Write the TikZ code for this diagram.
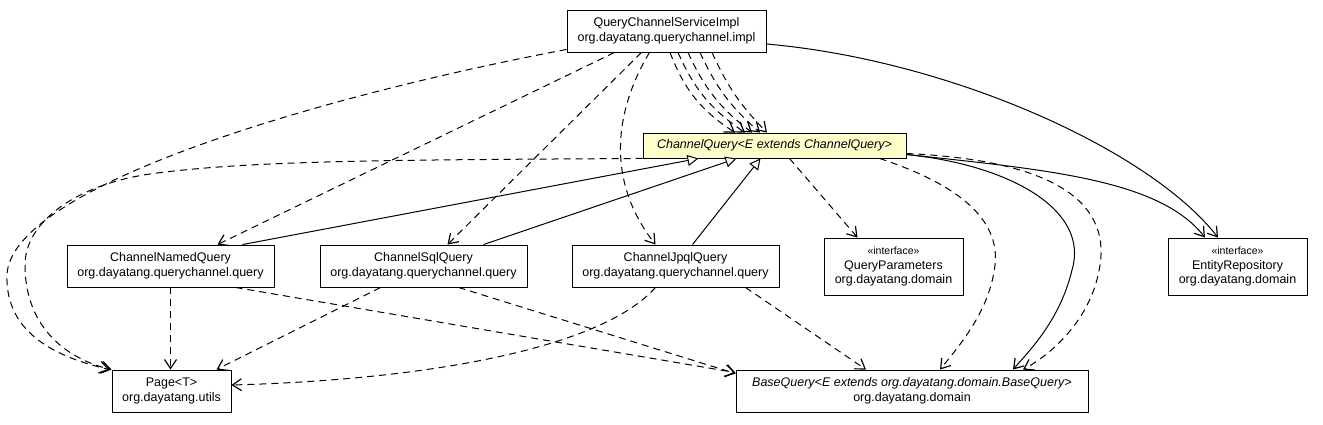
\documentclass[tikz,border=0pt]{standalone}
\usepackage{fontspec}
\setmainfont{Liberation Sans}
\usetikzlibrary{arrows.meta}
\definecolor{noteyellow}{HTML}{FFFFCC}
\begin{document}
\begin{tikzpicture}[x=1pt,y=-1pt,
  cls/.style={draw, line width=0.9pt, fill=white, inner sep=0pt, align=center, font=\fontsize{12.5}{14.5}\selectfont},
  dep/.style={line width=1pt, dash pattern=on 7pt off 5pt, -{Straight Barb[length=9pt,width=12pt,line width=1.2pt]}},
  assoc/.style={line width=1pt, -{Straight Barb[length=9pt,width=12pt,line width=1.2pt]}},
  gen/.style={line width=1pt, -{Triangle[open,length=11pt,width=11pt,fill=white]}}
]
\path[use as bounding box] (0,0) rectangle (1323,424);

% nodes
\node[cls, minimum width=199pt, minimum height=42pt] (qcs) at (666.5,31) {QueryChannelServiceImpl\\org.dayatang.querychannel.impl};
\node[cls, fill=noteyellow, minimum width=263pt, minimum height=25pt] (cq) at (774.5,145.5) {\itshape ChannelQuery<E extends ChannelQuery>};
\node[cls, minimum width=207pt, minimum height=42pt] (cnq) at (170.5,266) {ChannelNamedQuery\\org.dayatang.querychannel.query};
\node[cls, minimum width=207pt, minimum height=42pt] (csq) at (423.5,266) {ChannelSqlQuery\\org.dayatang.querychannel.query};
\node[cls, minimum width=207pt, minimum height=42pt] (cjq) at (675.5,266) {ChannelJpqlQuery\\org.dayatang.querychannel.query};
\node[cls, minimum width=139pt, minimum height=57pt] (qp) at (893.5,266.5) {{\fontsize{10.5}{12.5}\selectfont «interface»}\\QueryParameters\\org.dayatang.domain};
\node[cls, minimum width=139pt, minimum height=57pt] (er) at (1237.5,266.5) {{\fontsize{10.5}{12.5}\selectfont «interface»}\\EntityRepository\\org.dayatang.domain};
\node[cls, minimum width=119pt, minimum height=42pt] (page) at (171.5,391) {Page<T>\\org.dayatang.utils};
\node[cls, minimum width=352pt, minimum height=42pt] (bq) at (912,391) {\itshape BaseQuery<E extends org.dayatang.domain.BaseQuery>\\org.dayatang.domain};

% QueryChannelServiceImpl dependencies
\draw[dep] ([yshift=3pt]qcs.south west) .. controls (300,100) and (10,190) .. (7,275) .. controls (5,335) and (60,358) .. ([xshift=-2pt]page.north west);
\draw[dep] ([xshift=-52pt]qcs.south) -- ([xshift=47pt]cnq.north);
\draw[dep] ([xshift=-25pt]qcs.south) -- ([xshift=24pt]csq.north);
\draw[dep] ([xshift=-17pt]qcs.south) .. controls (615,110) and (605,180) .. ([xshift=-20pt]cjq.north);
\draw[dep] ([xshift=3.5pt]qcs.south) to[bend right=18] ([xshift=-39.5pt]cq.north);
\draw[dep] ([xshift=11.5pt]qcs.south) to[bend right=16] ([xshift=-29.5pt]cq.north);
\draw[dep] ([xshift=21.5pt]qcs.south) to[bend right=14] ([xshift=-22.5pt]cq.north);
\draw[dep] ([xshift=33.5pt]qcs.south) to[bend right=12] ([xshift=-14.5pt]cq.north);
\draw[dep] ([xshift=45.5pt]qcs.south) to[bend right=10] ([xshift=-7.5pt]cq.north);
\draw[assoc] ([yshift=-13pt]qcs.east) .. controls (950,60) and (1150,150) .. ([xshift=-19.5pt]er.north);

% ChannelQuery dependencies
\draw[dep] (cq.south west) .. controls (400,160) and (250,160) .. (150,174) .. controls (80,184) and (25,220) .. (25,265) .. controls (25,330) and (70,360) .. (page.north west);
\draw[dep] ([xshift=15pt]cq.south) -- ([xshift=-36pt]qp.north);
\draw[dep] ([xshift=105pt]cq.south) .. controls (960,185) and (1000,220) .. (995,265) .. controls (990,310) and (960,345) .. ([xshift=28pt]bq.north);
\draw[assoc] ([yshift=-9pt]cq.east) .. controls (1010,165) and (1090,210) .. (1072,270) .. controls (1060,320) and (1030,350) .. ([xshift=101pt]bq.north);
\draw[dep] ([yshift=-8pt]cq.east) .. controls (1050,160) and (1110,200) .. (1100,265) .. controls (1092,320) and (1050,355) .. ([xshift=111pt]bq.north);
\draw[assoc] ([yshift=-9pt]cq.east) .. controls (1050,170) and (1160,180) .. ([xshift=-32.5pt]er.north);

% generalizations
\draw[gen] ([xshift=72pt]cnq.north) -- ([xshift=-76pt]cq.south);
\draw[gen] ([xshift=60pt]csq.north) -- ([xshift=-38pt]cq.south);
\draw[gen] ([xshift=17pt]cjq.north) -- ([xshift=-14pt]cq.south);

% lower dependencies
\draw[dep] (cnq.south) -- (cnq.south |- page.north);
\draw[dep] ([xshift=65pt]cnq.south) -- ([yshift=-3pt]bq.north west);
\draw[dep] ([xshift=-43pt]csq.south) -- ([xshift=45pt]page.north);
\draw[dep] ([xshift=35pt]csq.south) -- ([yshift=-4pt]bq.north west);
\draw[dep] ([xshift=-20pt]cjq.south) .. controls (600,350) and (420,380) .. ([yshift=6pt]page.east);
\draw[dep] ([xshift=70pt]cjq.south) -- ([xshift=-46pt]bq.north);
\end{tikzpicture}
\end{document}
